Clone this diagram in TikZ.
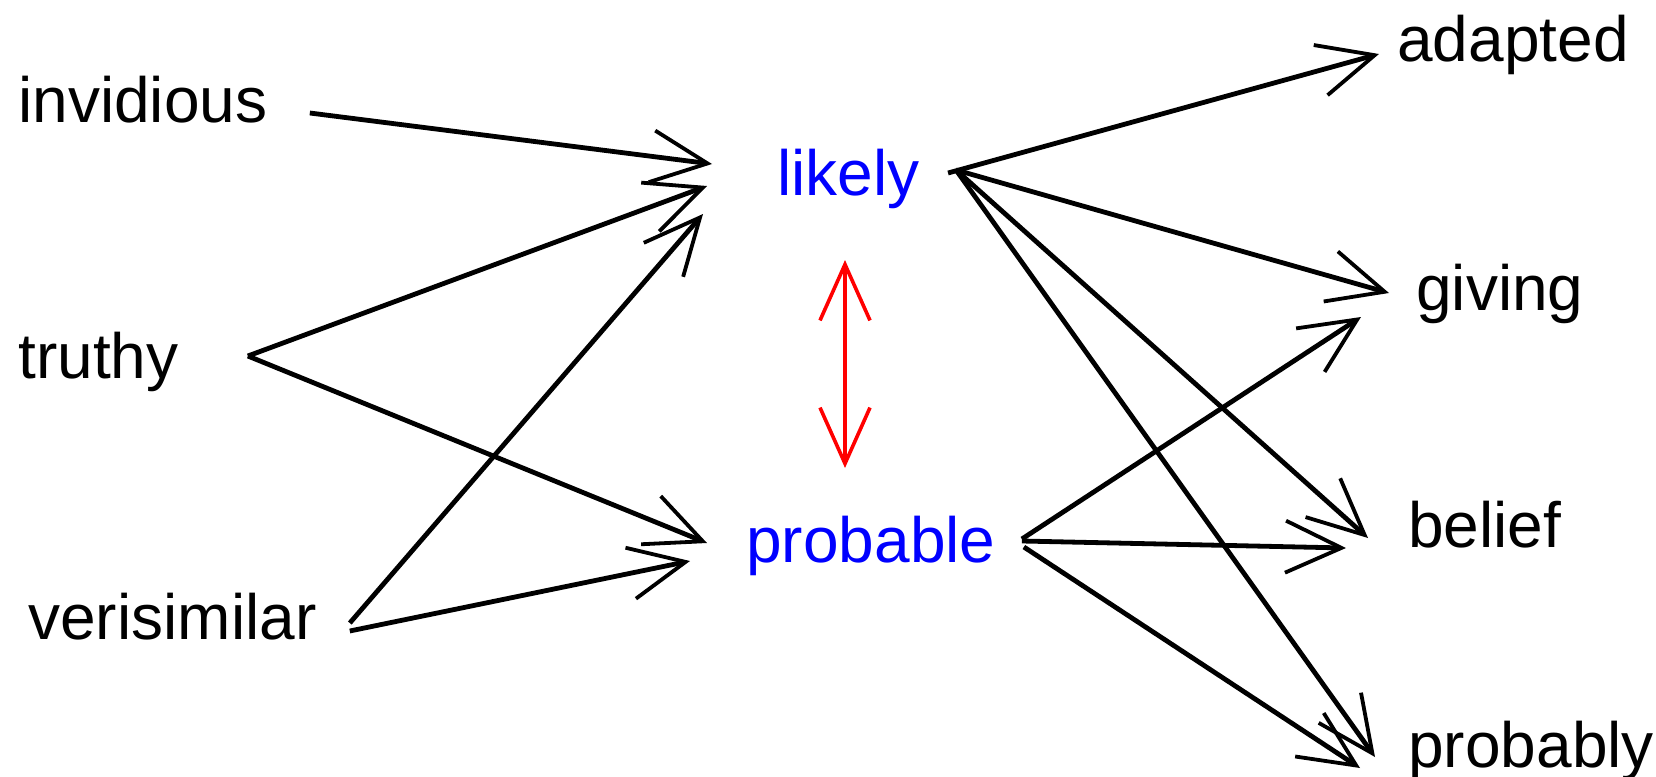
\documentclass[tikz,border=0pt]{standalone}
\usepackage{fontspec}
\setmainfont{Liberation Sans}
\usepackage{tikz}
\usetikzlibrary{arrows.meta}

\begin{document}
\begin{tikzpicture}[x=0.5pt, y=-0.5pt,
    every node/.style={inner sep=0pt, anchor=base west, font=\fontsize{32}{38}\selectfont},
    hub/.style={text=blue},
    link/.style={-{Straight Barb[length=28pt, width=26pt, line width=1.9pt]}, line width=2.4pt},
    pair/.style={{Straight Barb[length=28pt, width=25pt]}-{Straight Barb[length=28pt, width=25pt]}, red, line width=1.8pt}]
    \useasboundingbox (0,0) rectangle (1656,777);

    \node (invidious) at (18,122) {invidious};
    \node (truthy) at (18,378) {truthy};
    \node (verisimilar) at (28,639) {verisimilar};
    \node[hub] (likely) at (777,195) {likely};
    \node[hub] (probable) at (746,562) {probable};
    \node (adapted) at (1397,61) {adapted};
    \node (giving) at (1416,310) {giving};
    \node (belief) at (1408,547) {belief};
    \node (probably) at (1408,767) {probably};

    % into the two hubs
    \draw[link] ([shift={(42,-9)}]invidious.base east) -- ([shift={(-65,-31)}]likely.base west);
    \draw[link] ([shift={(69,-22)}]truthy.base east) -- ([shift={(-70,-9)}]likely.base west);
    \draw[link] ([shift={(33,-16)}]verisimilar.base east) -- ([shift={(-74,19)}]likely.base west);
    \draw[link] ([shift={(69,-22)}]truthy.base east) -- ([shift={(-39,-19)}]probable.base west);
    \draw[link] ([shift={(33,-8)}]verisimilar.base east) -- ([shift={(-56,-1)}]probable.base west);

    % out of the two hubs
    \draw[link] ([shift={(28,-22)}]likely.base east) -- ([shift={(-18,-7)}]adapted.base west);
    \draw[link] ([shift={(36,-25)}]likely.base east) -- ([shift={(-27,-17)}]giving.base west);
    \draw[link] ([shift={(36,-25)}]likely.base east) -- ([shift={(-40,-9)}]belief.base west);
    \draw[link] ([shift={(36,-25)}]likely.base east) -- ([shift={(-33,-10)}]probably.base west);
    \draw[link] ([shift={(26,-23)}]probable.base east) -- ([shift={(-55,7)}]giving.base west);
    \draw[link] ([shift={(26,-21)}]probable.base east) -- ([shift={(-62,1)}]belief.base west);
    \draw[link] ([shift={(28,-15)}]probable.base east) -- ([shift={(-48,1)}]probably.base west);

    \draw[pair] ([shift={(68,65)}]likely.base west) -- ([shift={(99,-94)}]probable.base west);
\end{tikzpicture}
\end{document}
